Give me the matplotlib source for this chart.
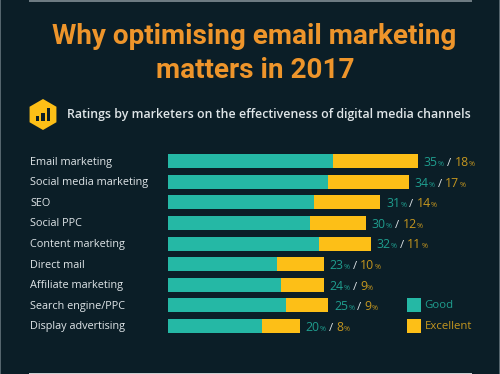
import matplotlib
matplotlib.use("Agg")
import matplotlib.pyplot as plt
from matplotlib.patches import Rectangle, RegularPolygon

channels = ["Email marketing", "Social media marketing", "SEO", "Social PPC",
            "Content marketing", "Direct mail", "Affiliate marketing",
            "Search engine/PPC", "Display advertising"]
good = [35, 34, 31, 30, 32, 23, 24, 25, 20]
excellent = [18, 17, 14, 12, 11, 10, 9, 9, 8]
legend_names = ["Good", "Excellent"]

BG = "#0b1e27"
TEAL = "#25b8a5"
YELLOW = "#fdbf17"
ORANGE = "#ee952b"
LIGHT = "#dfe5e8"
TEAL_TXT = "#1f9d8e"
GOLD_TXT = "#c4961f"

W, H = 500, 374
plt.rcParams["font.family"] = ["Open Sans", "DejaVu Sans"]
fig = plt.figure(figsize=(W / 100, H / 100), dpi=100, facecolor=BG)

# page furniture in pixel coords
page = fig.add_axes([0, 0, 1, 1])
page.set_xlim(0, W)
page.set_ylim(H, 0)
page.axis("off")
page.add_patch(Rectangle((29, 0), 443, 2, color="#6d7b82", lw=0))
page.add_patch(Rectangle((29, 372.5), 443, 1.5, color="#c9cfd2", lw=0))
page.add_patch(Rectangle((0, 0), 1.2, H, color="#55656d", lw=0))
page.add_patch(Rectangle((W - 1.2, 0), 1.2, H, color="#55656d", lw=0))

page.text(254.5, 36.5, "Why optimising email marketing", color=ORANGE, fontsize=20.1,
          fontweight="bold", ha="center", va="center", family="Roboto")
page.text(255, 70.5, "matters in 2017", color=ORANGE, fontsize=20.1,
          fontweight="bold", ha="center", va="center", family="Roboto")

# hexagon icon
page.add_patch(RegularPolygon((43, 114.5), 6, radius=15.5, color=YELLOW, lw=0))
for bx, bh in zip([35.5, 41, 46.5], [5, 8, 13]):
    page.add_patch(Rectangle((bx, 121 - bh), 3.6, bh, color=BG, lw=0))
page.text(67, 114, "Ratings by marketers on the effectiveness of digital media channels",
          color=LIGHT, fontsize=8.95, fontweight="semibold", ha="left", va="center")

# legend
for i, (name, col, tcol) in enumerate(zip(legend_names, [TEAL, YELLOW], [TEAL_TXT, GOLD_TXT])):
    y = 298 + i * 20.7
    page.add_patch(Rectangle((406.5, y), 14, 14, color=col, lw=0))
    page.text(424.5, y + 7.5, name, color=tcol, fontsize=8.2, ha="left", va="center")

# bars
ax = fig.add_axes([168 / W, 1 - 336.3 / H, (W - 168) / W, 185.4 / H])
ax.patch.set_alpha(0)
ax.set_xlim(0, (W - 168) / 4.72)
ax.set_ylim(8.5, -0.5)
ax.axis("off")
rows = list(range(len(channels)))
ax.barh(rows, good, height=0.68, color=TEAL, lw=0)
ax.barh(rows, excellent, left=good, height=0.68, color=YELLOW, lw=0)

renderer = fig.canvas.get_renderer()


def draw_pieces(x, y, pieces):
    # text pieces set one after another, offset in points from the bar end
    off = 0
    for txt, col, size in pieces:
        t = ax.annotate(txt, (x, y), xytext=(off, -3.4), textcoords="offset points",
                        color=col, fontsize=size, ha="left", va="baseline")
        off += t.get_window_extent(renderer).width * 0.72 + 0.1


for r, (g, e, name) in enumerate(zip(good, excellent, channels)):
    page.text(30, 162 + r * 20.6, name, color=LIGHT, fontsize=7.8, ha="left", va="center")
    draw_pieces(g + e + 1.2, r, [
        (str(g), TEAL_TXT, 8.8), ("%", TEAL_TXT, 5.2),
        (" / ", LIGHT, 8.2),
        (str(e), GOLD_TXT, 8.8), ("%", GOLD_TXT, 5.2),
    ])

fig.savefig("out.png", dpi=100, facecolor=BG)
